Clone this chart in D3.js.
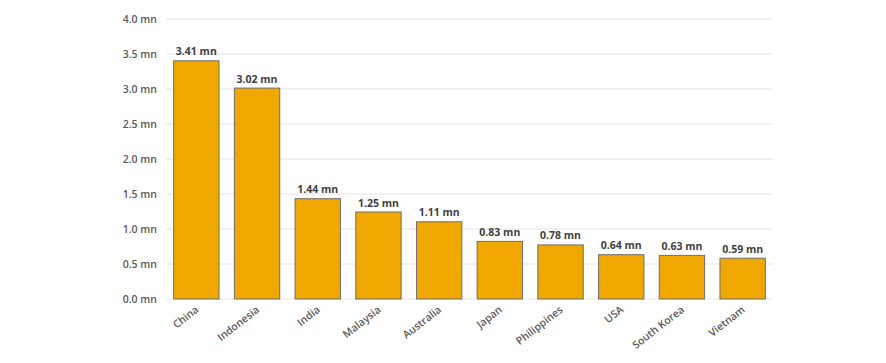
<!DOCTYPE html>
<html><head><meta charset="utf-8">
<script src="https://cdn.jsdelivr.net/npm/d3@7"></script>
<style>body{margin:0;background:#fff;} text{font-family:"Open Sans",Lato,sans-serif;}</style>
</head><body>
<svg id="c" width="886" height="363"></svg>
<script>
const categories = ["China","Indonesia","India","Malaysia","Australia","Japan","Philippines","USA","South Korea","Vietnam"];
const values = [3.41,3.02,1.44,1.25,1.11,0.83,0.78,0.64,0.63,0.59];
const yTicks = [0,0.5,1.0,1.5,2.0,2.5,3.0,3.5,4.0];

const svg = d3.select("#c");
const x = d3.scaleBand().domain(categories).range([166,773]).paddingInner(0.236).paddingOuter(0.118);
const y = d3.scaleLinear().domain([0,4]).range([299,19]);

// grid
svg.append("g").selectAll("line").data(yTicks).join("line")
  .attr("x1",166).attr("x2",773).attr("y1",d=>y(d)).attr("y2",d=>y(d))
  .attr("stroke","#e4e4e4").attr("stroke-width",1);

// y axis labels
const ya = svg.append("g").attr("transform","translate(166,0)")
  .call(d3.axisLeft(y).tickValues(yTicks).tickSize(0).tickPadding(9).tickFormat(d=>d.toFixed(1)+" mn"));
ya.select(".domain").remove();
ya.selectAll("text").attr("fill","#595959").style("font-size","10.5px").style("font-weight","600").style("font-family","'Open Sans',Lato,sans-serif");

// bars
svg.append("g").selectAll("rect").data(values).join("rect")
  .attr("x",(d,i)=>x(categories[i])+0.5).attr("y",d=>y(d)+0.5)
  .attr("width",x.bandwidth()-1).attr("height",d=>y(0)-y(d)-0.5)
  .attr("fill","#F0A800").attr("stroke","#6e6e6e").attr("stroke-width",1);

// value labels
svg.append("g").selectAll("text").data(values).join("text")
  .attr("x",(d,i)=>x(categories[i])+x.bandwidth()/2).attr("y",d=>y(d)-5)
  .attr("text-anchor","middle").attr("fill","#404040")
  .style("font-size","10.5px").style("font-weight","bold")
  .text(d=>d.toFixed(2)+" mn");

// x axis labels
const xa = svg.append("g").attr("transform","translate(0,299)")
  .call(d3.axisBottom(x).tickSize(0).tickPadding(0));
xa.select(".domain").remove();
xa.selectAll("text")
  .attr("text-anchor","end").attr("fill","#595959")
  .style("font-size","10.5px").style("font-weight","600").style("font-family","'Open Sans',Lato,sans-serif")
  .attr("dy","0").attr("y",0)
  .attr("transform","translate(3,12) rotate(-38)");
</script>
</body></html>
